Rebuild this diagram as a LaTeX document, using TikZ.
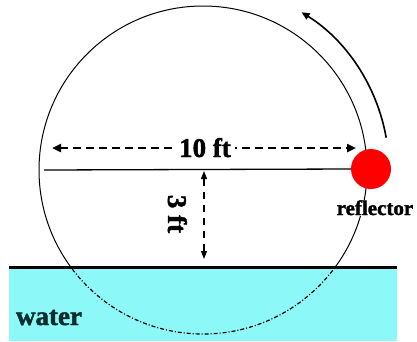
\documentclass[tikz,border=0pt]{standalone}
\usepackage{fontspec}
\setmainfont{Liberation Serif}
\newfontfamily\heavyfont{Liberation Serif Bold}[FakeBold=1.6]
\usetikzlibrary{arrows.meta}
\definecolor{watercol}{RGB}{140,248,248}
\definecolor{darkteal}{RGB}{10,45,45}
\begin{document}
\begin{tikzpicture}[x=1pt,y=-1pt,
  circ/.style={line width=1pt},
  tipA/.style={-{Triangle[length=8pt,width=7pt]}},
  dasharrow/.style={{Triangle[length=9pt,width=8pt]}-{Triangle[length=9pt,width=8pt]}, line width=2.6pt, dash pattern=on 8pt off 5pt},
  vdash/.style={{Triangle[length=8pt,width=6pt]}-{Triangle[length=8pt,width=6pt]}, line width=1.3pt, dash pattern=on 7pt off 6pt},
  bigtxt/.style={font=\fontsize{27}{27}\selectfont\heavyfont, inner sep=0pt},
  lbl/.style={font=\fontsize{21}{21}\selectfont\heavyfont, inner sep=0.5pt}]
\useasboundingbox (0,0) rectangle (417,341);
% water
\fill[watercol] (9,267) rectangle (397,341);
\coordinate (C) at (203,170);
\begin{scope}
  \clip (0,0) rectangle (417,267);
  \draw[circ] (C) circle[radius=164];
\end{scope}
\begin{scope}
  \clip (0,267) rectangle (417,341);
  \draw[line width=1.2pt, dash pattern=on 4pt off 2pt on 1pt off 2pt] (C) circle[radius=164];
\end{scope}
\coordinate (wL) at (9,267);
\coordinate (wR) at (397,267);
\draw[line width=3pt] (wL) -- (wR);
% reflector
\node[circle, fill=red, minimum size=40pt, inner sep=0pt] (R) at (371,169) {};
\coordinate (dL) at (44,170);
\draw[line width=1.3pt] (dL) -- (R.west);
\node[lbl, anchor=base west, fill=white] (reflbl) at (336,215) {reflector};
% curved arrow
\draw[tipA, line width=1.6pt] ([shift={(-10:186)}]C) arc[start angle=-10, end angle=-58, radius=186];
% 10 ft
\coordinate (aL) at (52,148);
\coordinate (aR) at (356,148);
\draw[dasharrow] (aL) -- (aR);
\node[bigtxt, fill=white, inner xsep=4pt, inner ysep=2pt, anchor=base] (ten) at (205,157) {10 ft};
% 3 ft
\coordinate (vT) at (204,171);
\coordinate (vB) at (204,259);
\draw[vdash] (vT) -- (vB);
\node[bigtxt, rotate=-90, anchor=base] (three) at (168,214) {3 ft};
% water label
\node[bigtxt, text=darkteal, anchor=base] (wat) at (49,325) {water};
\end{tikzpicture}
\end{document}
